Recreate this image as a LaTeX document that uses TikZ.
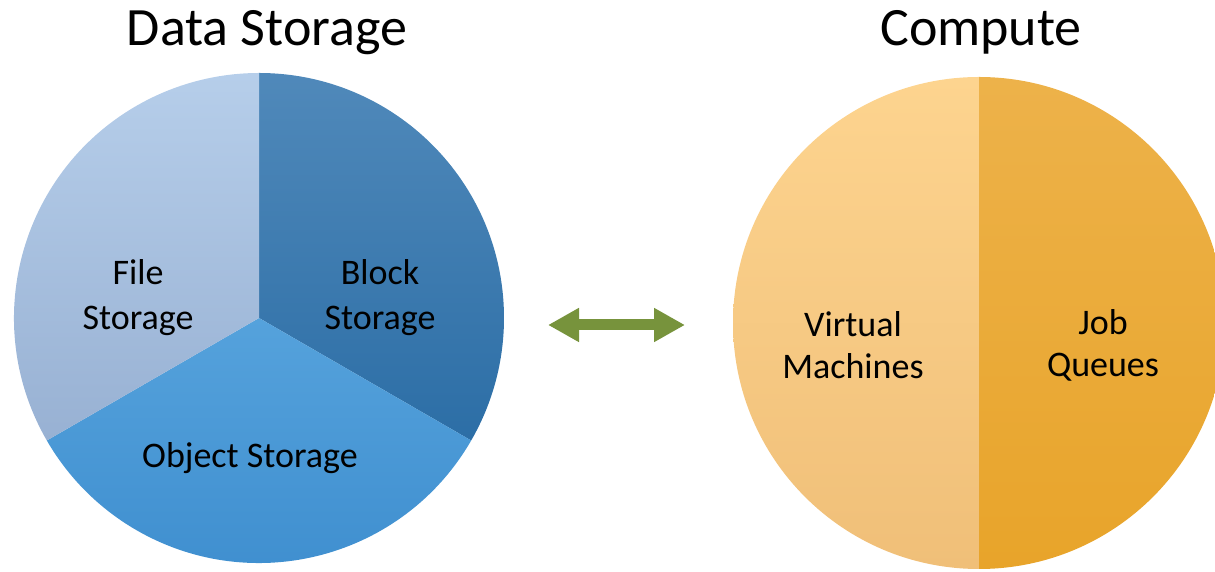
\documentclass[tikz,border=0pt]{standalone}
\usepackage{fontspec}
\setmainfont{Carlito}
\usetikzlibrary{arrows.meta}

\definecolor{fileTop}{HTML}{B6CEEA}
\definecolor{fileBot}{HTML}{98B1D3}
\definecolor{blockTop}{HTML}{5089BA}
\definecolor{blockBot}{HTML}{2C6EA6}
\definecolor{objTop}{HTML}{55A2DC}
\definecolor{objBot}{HTML}{3D8DCE}
\definecolor{vmTop}{HTML}{FDD48F}
\definecolor{vmBot}{HTML}{F0BF78}
\definecolor{jobTop}{HTML}{EDB24A}
\definecolor{jobBot}{HTML}{E8A42A}
\definecolor{arrowgreen}{HTML}{77933C}

\begin{document}
\begin{tikzpicture}[x=0.5pt,y=0.5pt,
  heading/.style={draw=none,font=\fontsize{27}{32}\selectfont,anchor=base},
  slicetext/.style={draw=none,align=center,font=\fontsize{18}{22.5}\selectfont},
  halftext/.style={draw=none,align=center,font=\fontsize{18}{21}\selectfont},
  link/.style={line width=5.5pt,color=arrowgreen,
    {Triangle[length=15.5pt,width=16pt]}-{Triangle[length=15.5pt,width=16pt]}}]

\useasboundingbox (0,0) rectangle (1215,572);
\clip (0,0) rectangle (1215,572);

\coordinate (storage) at (259,254); % centre of left pie
\coordinate (compute) at (979,249); % centre of right pie

% Data storage pie
\foreach \From/\To/\Top/\Bot in {90/-30/blockTop/blockBot, -30/-150/objTop/objBot, 210/90/fileTop/fileBot}{
    \shade[top color=\Top,bottom color=\Bot] (storage) -- ++(\From:245) arc[start angle=\From,end angle=\To,radius=245] -- cycle;
}

% Compute pie
\foreach \From/\To/\Top/\Bot in {90/270/vmTop/vmBot, 90/-90/jobTop/jobBot}{
    \shade[top color=\Top,bottom color=\Bot] (compute) -- ++(\From:246) arc[start angle=\From,end angle=\To,radius=246] -- cycle;
}

\node [heading] (storageTitle) at (267,526) {Data Storage};
\node [heading] (computeTitle) at (981,526) {Compute};

\node [slicetext] (file) at (138,274) {File\\Storage};
\node [slicetext] (block) at (380,274) {Block\\Storage};
\node [slicetext] (object) at (250,114) {Object Storage};
\node [halftext] (vm) at (853,227) {Virtual\\Machines};
\node [halftext] (job) at (1103,227) {Job\\Queues};

\coordinate (arrowL) at (548,247);
\coordinate (arrowR) at (685,247);
\draw[link] (arrowL) -- (arrowR); % storage <-> compute

\end{tikzpicture}
\end{document}
